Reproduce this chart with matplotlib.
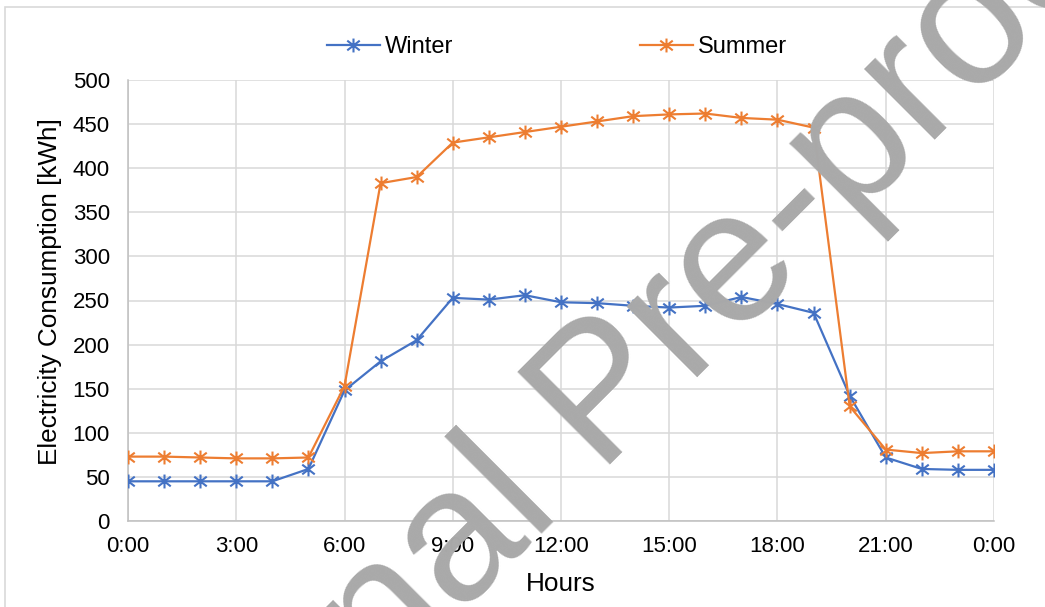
import numpy as np
import matplotlib
matplotlib.use("Agg")
import matplotlib.pyplot as plt
from matplotlib.path import Path
from matplotlib.patches import Rectangle

# hourly consumption, 0:00 .. 0:00 next day
hours = list(range(25))
winter = [45, 45, 45, 45, 45, 59, 148, 181, 205, 253, 251, 256, 248, 247, 244,
          242, 244, 254, 246, 236, 142, 72, 59, 58, 58]
summer = [73, 73, 72, 71, 71, 72, 153, 383, 390, 429, 435, 441, 447, 453, 459,
          461, 462, 457, 455, 446, 130, 81, 77, 79, 79]
xticks = list(range(0, 25, 3))
xtick_labels = ["0:00", "3:00", "6:00", "9:00", "12:00", "15:00", "18:00", "21:00", "0:00"]

plt.rcParams['font.family'] = ['Liberation Sans', 'DejaVu Sans']

# excel-like star marker: vertical bar + X
star = Path([(0, -1), (0, 1), (-0.9, -0.7), (0.9, 0.7), (-0.9, 0.7), (0.9, -0.7)],
            [Path.MOVETO, Path.LINETO] * 3)

fig = plt.figure(figsize=(10.45, 6.07), dpi=100)
ax = fig.add_axes([128 / 1045, 1 - 521 / 607, (994 - 128) / 1045, (521 - 80) / 607])

ax.plot(hours, winter, color='#4472C4', lw=1.6, marker=star, ms=10, mew=1.5,
        mec='#4472C4', label='Winter', zorder=3)
ax.plot(hours, summer, color='#ED7D31', lw=1.6, marker=star, ms=10, mew=1.5,
        mec='#ED7D31', label='Summer', zorder=3)

ax.set_xlim(0, 24)
ax.set_ylim(0, 500)
ax.set_xticks(xticks)
ax.set_xticklabels(xtick_labels)
ax.set_yticks(range(0, 501, 50))
ax.tick_params(length=0, labelsize=16)
ax.tick_params(axis='x', pad=11)
ax.tick_params(axis='y', pad=13)
ax.grid(True, color='#D9D9D9', lw=1.1)
ax.set_axisbelow(True)
for s in ['top', 'right']:
    ax.spines[s].set_visible(False)
for s in ['left', 'bottom']:
    ax.spines[s].set_color('#BFBFBF')
    ax.spines[s].set_linewidth(1.1)

ax.set_xlabel("Hours", fontsize=18.8)
ax.set_ylabel("Electricity Consumption [kWh]", fontsize=18.8)
ax.xaxis.set_label_coords(0.5, -(572 - 521) / 441)
ax.yaxis.set_label_coords((62 - 128) / 866, 0.52)

fig.legend(loc='center', bbox_to_anchor=(557 / 1045, 1 - 47 / 607), ncol=2,
           frameon=False, fontsize=17, handlelength=2.25, handletextpad=0.22,
           columnspacing=7.9)

# chart frame
fig.patches.append(Rectangle((5 / 1045, -0.1), 1.2, 1.1 - 7 / 607, fill=False,
                             ec='#D9D9D9', lw=1.2, transform=fig.transFigure))

# watermark
fig.text(640 / 1045, 1 - 434 / 607, "Journal Pre-proof", fontsize=136, color='#A9A9A9',
         rotation=45, rotation_mode='anchor', ha='center', va='baseline', zorder=10)

fig.savefig('out.png', dpi=100)
